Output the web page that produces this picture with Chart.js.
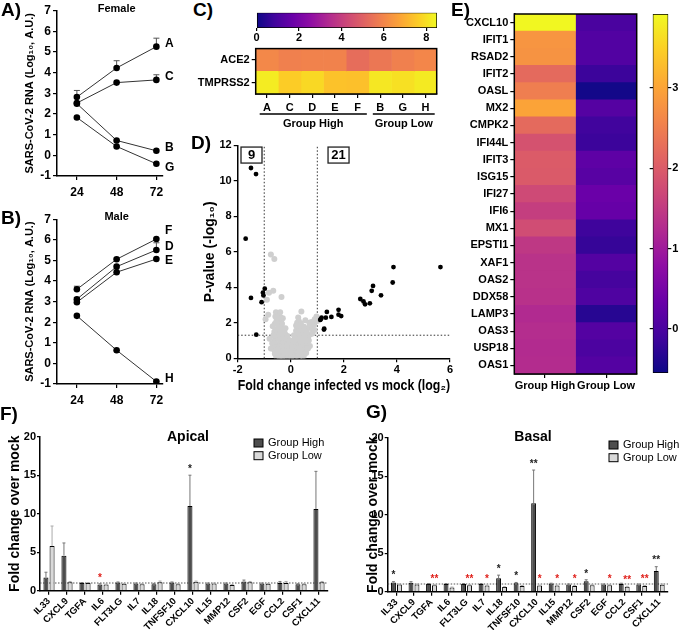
<!DOCTYPE html>
<html><head><meta charset="utf-8">
<script src="https://cdn.jsdelivr.net/npm/chart.js@4.4.1/dist/chart.umd.min.js"></script>
<style>
body{margin:0;background:#fff;width:680px;height:630px;position:relative;overflow:hidden;font-family:"Liberation Sans",Arial,sans-serif;}
canvas{position:absolute;}
.pl{position:absolute;font:bold 19px "Liberation Sans",Arial,sans-serif;line-height:19px;color:#000;white-space:nowrap;}
</style></head><body>
<canvas id="cA" width="190" height="200" style="left:0;top:0"></canvas>
<canvas id="cB" width="190" height="210" style="left:0;top:200px"></canvas>
<canvas id="cCbar" width="195" height="40" style="left:250px;top:5px"></canvas>
<canvas id="cC" width="255" height="95" style="left:190px;top:40px"></canvas>
<canvas id="cD" width="270" height="260" style="left:190px;top:135px"></canvas>
<canvas id="cE" width="235" height="400" style="left:410px;top:0"></canvas>
<canvas id="cEbar" width="40" height="400" style="left:640px;top:0"></canvas>
<canvas id="cF" width="340" height="235" style="left:0;top:395px"></canvas>
<canvas id="cG" width="340" height="235" style="left:340px;top:395px"></canvas>
<div class="pl" style="left:1px;top:0px">A)</div>
<div class="pl" style="left:1px;top:208px">B)</div>
<div class="pl" style="left:193px;top:0px">C)</div>
<div class="pl" style="left:191px;top:133px">D)</div>
<div class="pl" style="left:451px;top:0px">E)</div>
<div class="pl" style="left:0px;top:404px">F)</div>
<div class="pl" style="left:366px;top:402px">G)</div>
<script>
const FF = '"Liberation Sans", Arial, Helvetica, sans-serif';
Chart.defaults.font.family = FF;
Chart.defaults.color = '#000';

// ---------------- data ----------------
const hours = [24, 48, 72];
const femaleIds = ['A', 'C', 'B', 'G'];
const femaleMean = [[2.82, 4.23, 5.26], [2.53, 3.52, 3.65], [2.5, 0.72, 0.22], [1.83, 0.43, -0.41]];
const femaleErr = [[0.32, 0.35, 0.41], [0, 0, 0.25], [0, 0, 0], [0, 0, 0]];
const maleIds = ['F', 'D', 'E', 'H'];
const maleMean = [[3.6, 5.06, 6.04], [3.12, 4.7, 5.51], [2.97, 4.43, 5.07], [2.31, 0.64, -0.88]];
const maleErr = [[0.15, 0.05, 0], [0.08, 0, 0.35], [0, 0, 0], [0, 0, 0]];

const groupHigh = ['A', 'C', 'D', 'E', 'F'];
const groupLow = ['B', 'G', 'H'];
const cGenes = ['ACE2', 'TMPRSS2'];
const ace2Expr = [6.05, 5.85, 5.9, 5.9, 5.35, 5.6, 5.85, 6.0];
const tmprss2Expr = [8.25, 7.6, 7.85, 7.4, 7.35, 8.15, 8.0, 8.2];
const cScaleMax = 8.5;
const cScaleTicks = [0, 2, 4, 6, 8];

const sigDown = [[-1.5, 10.72], [-1.31, 10.38], [-1.7, 6.74], [-1.5, 3.4], [-0.98, 3.92], [-1.03, 3.54], [-1.1, 3.16], [-1.3, 1.33], [-1.05, 3.7]];
const sigUp = [[1.11, 2.16], [1.16, 2.29], [1.26, 1.67], [1.25, 1.62], [1.36, 2.61], [1.32, 2.29], [1.53, 2.33], [1.8, 2.73], [1.8, 2.46], [1.9, 2.38],
  [2.62, 3.34], [2.74, 3.2], [2.8, 3.04], [2.98, 3.1], [3.05, 3.8], [3.1, 4.08], [3.4, 3.55], [3.87, 5.14], [3.84, 4.27], [5.64, 5.14], [1.13, 2.2]];
const nsPts = [
  [-0.42, 0.08], [-0.36, 0.15], [-0.31, 0.05], [-0.27, 0.22], [-0.22, 0.1], [-0.18, 0.3], [-0.14, 0.05], [-0.1, 0.18], [-0.06, 0.08], [-0.02, 0.25],
  [0.02, 0.05], [0.06, 0.15], [0.1, 0.3], [0.14, 0.08], [0.18, 0.2], [0.22, 0.12], [0.27, 0.28], [0.32, 0.06], [0.37, 0.18], [0.44, 0.1],
  [-0.5, 0.35], [-0.44, 0.45], [-0.38, 0.38], [-0.33, 0.55], [-0.28, 0.42], [-0.23, 0.6], [-0.18, 0.5], [-0.13, 0.4], [-0.08, 0.55], [-0.04, 0.35],
  [0.04, 0.4], [0.09, 0.55], [0.13, 0.45], [0.18, 0.6], [0.23, 0.4], [0.28, 0.55], [0.33, 0.45], [0.39, 0.62], [0.45, 0.4], [0.52, 0.5],
  [-0.56, 0.7], [-0.5, 0.8], [-0.44, 0.68], [-0.39, 0.88], [-0.34, 0.75], [-0.29, 0.95], [-0.24, 0.8], [-0.2, 1.0], [-0.15, 0.7], [-0.1, 0.85],
  [0.1, 0.75], [0.14, 0.9], [0.19, 0.72], [0.24, 0.95], [0.3, 0.8], [0.35, 0.98], [0.41, 0.78], [0.47, 0.9], [0.55, 0.75], [0.62, 0.85],
  [-0.6, 1.05], [-0.54, 1.2], [-0.48, 1.1], [-0.43, 1.3], [-0.37, 1.15], [-0.32, 1.35], [-0.27, 1.2], [-0.22, 1.4], [-0.17, 1.15],
  [0.16, 1.1], [0.21, 1.3], [0.26, 1.15], [0.31, 1.38], [0.37, 1.2], [0.43, 1.35], [0.5, 1.15], [0.57, 1.3], [0.66, 1.2], [0.74, 1.35],
  [-0.62, 1.5], [-0.56, 1.62], [-0.5, 1.48], [-0.45, 1.7], [-0.39, 1.55], [-0.34, 1.78], [-0.28, 1.6],
  [0.2, 1.55], [0.25, 1.75], [0.3, 1.6], [0.36, 1.8], [0.42, 1.62], [0.5, 1.78], [0.6, 1.6], [0.7, 1.75], [0.8, 1.65], [0.88, 1.9],
  [-0.6, 1.95], [-0.54, 2.1], [-0.47, 1.92], [-0.42, 2.15], [-0.36, 2.0], [0.24, 2.0], [0.3, 2.12], [0.38, 1.98], [0.78, 2.05], [0.9, 2.2], [0.97, 2.35], [1.0, 2.1],
  [-0.58, 2.35], [-0.5, 2.5], [-0.44, 2.3], [-0.3, 2.25], [0.28, 2.3],
  [-0.55, 0.1], [-0.6, 0.25], [0.5, 0.2], [0.58, 0.3], [0.62, 0.55], [-0.62, 0.45], [-0.48, 0.15], [0.48, 0.05], [-0.35, 0.02], [0.3, 0.35],
  [-0.25, 0.35], [0.0, 0.45], [-0.05, 0.65], [0.05, 0.7], [0.0, 0.9], [-0.08, 1.05], [0.08, 1.0], [-0.12, 1.25], [0.12, 1.3], [-0.65, 1.3],
  [-0.66, 0.7], [0.68, 1.0], [0.72, 0.7], [0.82, 1.4], [0.9, 1.6], [-0.52, 2.25], [-0.56, 2.6], [-0.46, 2.45], [-0.38, 2.3], [-0.33, 1.95],
  [0.33, 1.85], [0.27, 1.45], [0.42, 1.1], [0.55, 1.0], [0.6, 1.45], [-0.2, 1.7], [0.2, 1.85],
  [-0.75, 5.85], [-0.62, 5.6], [-0.66, 3.8], [-0.82, 3.7], [-0.35, 3.45], [-0.9, 3.3], [0.4, 2.63], [-0.85, 2.45], [-0.95, 2.2],
  [-0.8, 1.1], [-0.7, 0.85], [-0.75, 0.55], [-0.68, 1.8], [0.65, 0.55], [0.7, 2.0], [-0.4, 2.6], [0.55, 2.15]
];

const eGenes = ['CXCL10', 'IFIT1', 'RSAD2', 'IFIT2', 'OASL', 'MX2', 'CMPK2', 'IFI44L', 'IFIT3', 'ISG15', 'IFI27', 'IFI6', 'MX1', 'EPSTI1', 'XAF1', 'OAS2', 'DDX58', 'LAMP3', 'OAS3', 'USP18', 'OAS1'];
const eGroups = ['Group High', 'Group Low'];
const eHigh = [3.9, 2.8, 2.78, 2.22, 2.49, 2.98, 2.22, 1.86, 2.0, 1.98, 1.73, 1.55, 1.77, 1.46, 1.37, 1.37, 1.35, 1.24, 1.28, 1.25, 1.27];
const eLow = [-0.01, 0.08, 0.08, -0.15, -0.5, 0.12, -0.1, -0.15, 0.21, 0.15, 0.34, 0.3, -0.12, -0.2, 0.1, -0.05, 0.05, -0.33, 0.1, 0.02, 0.1];
const eScaleMin = -0.55, eScaleMax = 3.92;
const eScaleTicks = [0, 1, 2, 3];

const cytokines = ['IL33', 'CXCL9', 'TGFA', 'IL6', 'FLT3LG', 'IL7', 'IL18', 'TNFSF10', 'CXCL10', 'IL15', 'MMP12', 'CSF2', 'EGF', 'CCL2', 'CSF1', 'CXCL11'];
const apicalHigh = [1.7, 4.55, 1.0, 0.8, 1.05, 0.95, 0.85, 1.05, 11.0, 0.95, 0.95, 1.2, 0.95, 1.0, 0.85, 10.6];
const apicalHighErr = [0.7, 1.65, 0.05, 0.1, 0.08, 0.05, 0.1, 0.08, 4.0, 0.05, 0.05, 0.18, 0.05, 0.2, 0.05, 4.9];
const apicalLow = [5.8, 1.1, 1.0, 0.8, 0.9, 0.85, 1.1, 0.85, 1.15, 0.95, 0.75, 1.1, 0.9, 1.0, 0.85, 1.1];
const apicalLowErr = [2.6, 0.1, 0.05, 0.05, 0.05, 0.05, 0.15, 0.05, 0.1, 0.05, 0.05, 0.1, 0.05, 0.2, 0.05, 0.1];
const apicalSigHigh = ['', '', '', 'r*', '', '', '', '', '*', '', '', '', '', '', '', ''];
const apicalSigLow = ['', '', '', '', '', '', '', '', '', '', '', '', '', '', '', ''];
const basalHigh = [1.2, 1.15, 1.0, 1.0, 1.0, 1.0, 1.75, 1.1, 11.5, 1.05, 0.95, 1.35, 0.95, 1.0, 0.95, 2.7];
const basalHighErr = [0.1, 0.15, 0.05, 0.05, 0.05, 0.05, 0.4, 0.1, 4.3, 0.05, 0.05, 0.2, 0.05, 0.1, 0.05, 0.55];
const basalLow = [0.95, 0.95, 0.85, 0.55, 0.85, 0.8, 0.6, 0.75, 0.8, 0.8, 0.75, 0.85, 0.85, 0.65, 0.75, 0.9];
const basalLowErr = [0.05, 0.05, 0.05, 0.05, 0.05, 0.05, 0.05, 0.05, 0.05, 0.05, 0.05, 0.05, 0.05, 0.05, 0.05, 0.1];
const basalSigHigh = ['*', '', '', '', '', '', '*', '*', '**', '', '', '*', '', '', '', '**'];
const basalSigLow = ['', '', 'r**', '', 'r**', 'r*', '', '', 'r*', 'r*', 'r*', '', 'r*', 'r**', 'r**', ''];
const foldTicks = [0, 5, 10, 15, 20];

// ---------------- helpers ----------------
const PLASMA = ['#0d0887', '#41049d', '#6a00a8', '#8f0da4', '#b12a90', '#cc4778', '#e16462', '#f2844b', '#fca636', '#fcce25', '#f0f921'];
function hex2rgb(h) { return [parseInt(h.slice(1, 3), 16), parseInt(h.slice(3, 5), 16), parseInt(h.slice(5, 7), 16)]; }
function plasma(t) {
  t = Math.max(0, Math.min(1, t));
  const s = t * 10, i = Math.min(9, Math.floor(s)), f = s - i;
  const a = hex2rgb(PLASMA[i]), b = hex2rgb(PLASMA[i + 1]);
  return 'rgb(' + a.map((v, k) => Math.round(v + (b[k] - v) * f)).join(',') + ')';
}
function plasmaGrad(ctx, x0, y0, x1, y1) {
  const g = ctx.createLinearGradient(x0, y0, x1, y1);
  PLASMA.forEach((c, i) => g.addColorStop(i / 10, c));
  return g;
}
function font(size, weight) { return { family: FF, size: size, weight: weight || 'bold' }; }
function axisBase(fs, tl, pad, rot) {
  return {
    grid: { display: true, drawOnChartArea: false, drawTicks: true, tickLength: tl, color: '#000', lineWidth: 1.2, offset: false },
    border: { display: true, color: '#000', width: 1.5 },
    ticks: { color: '#000', font: font(fs), padding: pad, minRotation: rot || 0, maxRotation: rot || 0, autoSkip: false }
  };
}
function txt(ctx, s, x, y, f, color, align, base) {
  ctx.save(); ctx.font = f; ctx.fillStyle = color || '#000'; ctx.textAlign = align || 'center'; ctx.textBaseline = base || 'middle';
  ctx.fillText(s, x, y); ctx.restore();
}
const common = { responsive: false, animation: false, devicePixelRatio: 1, events: [] };
const noPlug = { legend: { display: false }, tooltip: { enabled: false } };

// ---------------- A / B ----------------
function lineChart(id, ids, means, errs, title, dys, topPad, xH) {
  const datasets = ids.map((n, k) => ({
    label: n, data: hours.map((h, i) => ({ x: h, y: means[k][i] })), showLine: true,
    borderColor: '#333', borderWidth: 1, pointRadius: 3.3, pointBackgroundColor: '#000', pointBorderWidth: 0
  }));
  const xa = axisBase(12, 4, 5);
  const ya = axisBase(12, 4, 2);
  new Chart(document.getElementById(id), {
    type: 'scatter', data: { datasets },
    options: Object.assign({}, common, {
      layout: { padding: { top: topPad, right: 27, left: 0, bottom: 0 } },
      plugins: noPlug,
      scales: {
        x: Object.assign(xa, { type: 'linear', min: 12, max: 76, afterBuildTicks: s => { s.ticks = hours.map(v => ({ value: v })); }, afterFit: s => { s.height = xH; } }),
        y: Object.assign(ya, { type: 'linear', min: -1, max: 7, afterBuildTicks: s => { s.ticks = [-1, 0, 1, 2, 3, 4, 5, 6, 7].map(v => ({ value: v })); }, afterFit: s => { s.width = 57; },
          title: { display: true, text: 'SARS-CoV-2 RNA (Log\u2081\u2080, A.U.)', color: '#000', font: font(11), padding: { top: 23, bottom: 0 } } })
      }
    }),
    plugins: [{
      id: 'lineDeco',
      beforeDatasetsDraw(chart) {
        const ctx = chart.ctx, ys = chart.scales.y;
        ctx.save(); ctx.strokeStyle = '#555'; ctx.lineWidth = 1;
        ids.forEach((n, k) => {
          const meta = chart.getDatasetMeta(k);
          hours.forEach((h, i) => {
            if (errs[k][i] <= 0) return;
            const p = meta.data[i]; const yt = ys.getPixelForValue(means[k][i] + errs[k][i]);
            ctx.beginPath(); ctx.moveTo(p.x, p.y); ctx.lineTo(p.x, yt); ctx.moveTo(p.x - 3, yt); ctx.lineTo(p.x + 3, yt); ctx.stroke();
          });
        });
        ctx.restore();
      },
      afterDraw(chart) {
        const ctx = chart.ctx, a = chart.chartArea;
        ids.forEach((n, k) => {
          const meta = chart.getDatasetMeta(k); const p = meta.data[hours.length - 1];
          txt(ctx, n, p.x + 8.5, p.y + dys[k], 'bold 12px ' + FF, '#000', 'left', 'middle');
        });
        txt(ctx, title, chart.scales.x.getPixelForValue(48), a.top - 2, 'bold 11px ' + FF);
      }
    }]
  });
}
lineChart('cA', femaleIds, femaleMean, femaleErr, 'Female', [-3, -3, -3, 4], 10.7, 24);
lineChart('cB', maleIds, maleMean, maleErr, 'Male', [-8, -3, 2, -3], 19.3, 26);

// ---------------- C ----------------
const cCols = groupHigh.concat(groupLow);
(function () {
  const xa = axisBase(11, 3, 0);
  new Chart(document.getElementById('cCbar'), {
    type: 'bar',
    data: { labels: [''], datasets: [{ data: [[0, cScaleMax]], borderColor: '#000', borderWidth: 1, borderSkipped: false, barPercentage: 1, categoryPercentage: 1,
      backgroundColor: ctx => { const a = ctx.chart.chartArea; if (!a) return '#888'; return plasmaGrad(ctx.chart.ctx, a.left, 0, a.right, 0); } }] },
    options: Object.assign({}, common, {
      indexAxis: 'y',
      layout: { padding: { top: 7.7, left: 6.5, right: 8, bottom: 0 } },
      plugins: noPlug,
      scales: {
        x: Object.assign(xa, { type: 'linear', min: 0, max: cScaleMax, border: { display: false }, afterBuildTicks: s => { s.ticks = cScaleTicks.map(v => ({ value: v })); }, afterFit: s => { s.height = 17; } }),
        y: { display: false }
      }
    })
  });
  const datasets = cCols.map((c, i) => ({
    label: c, data: [1, 1], borderWidth: 0, barPercentage: 1, categoryPercentage: 1,
    backgroundColor: [plasma(ace2Expr[i] / cScaleMax), plasma(tmprss2Expr[i] / cScaleMax)]
  }));
  const xa2 = axisBase(11, 4, 3), ya2 = axisBase(11, 4, 2);
  new Chart(document.getElementById('cC'), {
    type: 'bar', data: { labels: cGenes, datasets },
    options: Object.assign({}, common, {
      indexAxis: 'y',
      layout: { padding: { top: 7.3, right: 8.3, left: 0, bottom: 0 } },
      plugins: noPlug,
      scales: {
        x: Object.assign(xa2, { type: 'linear', stacked: true, min: 0, max: cCols.length, afterBuildTicks: s => { s.ticks = cCols.map((c, i) => ({ value: i + 0.5 })); },
          afterFit: s => { s.height = 41; } }),
        y: Object.assign(ya2, { stacked: true, afterFit: s => { s.width = 65.7; } })
      }
    }),
    plugins: [{
      id: 'cDeco',
      beforeInit(chart) { chart.options.scales.x.ticks.callback = (v, i) => cCols[i]; },
      afterDraw(chart) {
        const ctx = chart.ctx, a = chart.chartArea, xs = chart.scales.x;
        ctx.save(); ctx.strokeStyle = '#000'; ctx.lineWidth = 1.5; ctx.strokeRect(a.left, a.top, a.right - a.left, a.bottom - a.top);
        const groups = [['Group High', 0, groupHigh.length], ['Group Low', groupHigh.length, cCols.length]];
        groups.forEach(g => {
          const x0 = xs.getPixelForValue(g[1]) + 4, x1 = xs.getPixelForValue(g[2]) - 2, y = a.bottom + 20;
          ctx.lineWidth = 1.3; ctx.beginPath(); ctx.moveTo(x0, y); ctx.lineTo(x1, y); ctx.stroke();
          txt(ctx, g[0], (x0 + x1) / 2, y + 10, 'bold 11px ' + FF);
        });
        ctx.restore();
      }
    }]
  });
})();

// ---------------- D ----------------
(function () {
  const xa = axisBase(11, 4, 1), ya = axisBase(11, 4, 2);
  const toXY = arr => arr.map(p => ({ x: p[0], y: p[1] }));
  new Chart(document.getElementById('cD'), {
    type: 'scatter',
    data: { datasets: [
      { label: 'down', data: toXY(sigDown), pointRadius: 2.4, pointBackgroundColor: '#000', pointBorderWidth: 0 },
      { label: 'up', data: toXY(sigUp), pointRadius: 2.4, pointBackgroundColor: '#000', pointBorderWidth: 0 },
      { label: 'ns', data: toXY(nsPts), pointRadius: 3, pointBackgroundColor: '#cfcfcf', pointBorderWidth: 0 }
    ] },
    options: Object.assign({}, common, {
      layout: { padding: { top: 10.3, right: 10, left: 0, bottom: 0 } },
      plugins: noPlug,
      scales: {
        x: Object.assign(xa, { type: 'linear', min: -2, max: 6, afterBuildTicks: s => { s.ticks = [-2, 0, 2, 4, 6].map(v => ({ value: v })); }, afterFit: s => { s.height = 36.7; },
          title: { display: true, text: 'Fold change infected vs mock (log\u2082)', color: '#000', font: font(14), padding: { top: 0, bottom: 0.6 } } }),
        y: Object.assign(ya, { type: 'linear', min: 0, max: 12, afterBuildTicks: s => { s.ticks = [0, 2, 4, 6, 8, 10, 12].map(v => ({ value: v })); }, afterFit: s => { s.width = 47.7; },
          title: { display: true, text: 'P-value (-log\u2081\u2080)', color: '#000', font: font(14), padding: { top: 11.6, bottom: 0 } } })
      }
    }),
    plugins: [{
      id: 'dDeco',
      beforeDatasetsDraw(chart) {
        const ctx = chart.ctx, xs = chart.scales.x, ys = chart.scales.y;
        ctx.save(); ctx.setLineDash([1.5, 2]); ctx.strokeStyle = '#333'; ctx.lineWidth = 1;
        [-1, 1].forEach(v => { const x = xs.getPixelForValue(v); ctx.beginPath(); ctx.moveTo(x, ys.getPixelForValue(0)); ctx.lineTo(x, ys.getPixelForValue(12)); ctx.stroke(); });
        const y = ys.getPixelForValue(1.3); ctx.beginPath(); ctx.moveTo(xs.getPixelForValue(-2), y); ctx.lineTo(xs.getPixelForValue(6), y); ctx.stroke();
        ctx.restore();
      },
      afterDraw(chart) {
        const ctx = chart.ctx, xs = chart.scales.x, ys = chart.scales.y;
        [[String(sigDown.length), -1.48], [String(sigUp.length), 1.8]].forEach(b => {
          const cx = xs.getPixelForValue(b[1]), cy = ys.getPixelForValue(11.45);
          ctx.save(); ctx.fillStyle = '#fff'; ctx.strokeStyle = '#222'; ctx.lineWidth = 1.3;
          ctx.fillRect(cx - 10.5, cy - 8, 21, 16); ctx.strokeRect(cx - 10.5, cy - 8, 21, 16); ctx.restore();
          txt(ctx, b[0], cx, cy + 0.5, 'bold 13px ' + FF);
        });
      }
    }]
  });
})();

// ---------------- E ----------------
(function () {
  const norm = v => (v - eScaleMin) / (eScaleMax - eScaleMin);
  const datasets = [
    { label: eGroups[0], data: eGenes.map(() => 1), backgroundColor: eHigh.map(v => plasma(norm(v))), borderWidth: 0, barPercentage: 1, categoryPercentage: 1 },
    { label: eGroups[1], data: eGenes.map(() => 1), backgroundColor: eLow.map(v => plasma(norm(v))), borderWidth: 0, barPercentage: 1, categoryPercentage: 1 }
  ];
  const xa = axisBase(11, 4, 1), ya = axisBase(11, 4, 2);
  new Chart(document.getElementById('cE'), {
    type: 'bar', data: { labels: eGenes, datasets },
    options: Object.assign({}, common, {
      indexAxis: 'y',
      layout: { padding: { top: 14, right: 8.3, left: 0, bottom: 0 } },
      plugins: noPlug,
      scales: {
        x: Object.assign(xa, { type: 'linear', stacked: true, min: 0, max: 2, afterBuildTicks: s => { s.ticks = [0.5, 1.5].map(v => ({ value: v })); }, afterFit: s => { s.height = 26; } }),
        y: Object.assign(ya, { stacked: true, afterFit: s => { s.width = 104.3; } })
      }
    }),
    plugins: [{
      id: 'eDeco',
      beforeInit(chart) { chart.options.scales.x.ticks.callback = (v, i) => eGroups[i]; },
      afterDraw(chart) {
        const ctx = chart.ctx, a = chart.chartArea;
        ctx.save(); ctx.strokeStyle = '#000'; ctx.lineWidth = 1.5; ctx.strokeRect(a.left, a.top, a.right - a.left, a.bottom - a.top); ctx.restore();
      }
    }]
  });
  const ya2 = axisBase(11, 3, 1);
  new Chart(document.getElementById('cEbar'), {
    type: 'bar',
    data: { labels: [''], datasets: [{ data: [[eScaleMin, eScaleMax]], borderColor: '#000', borderWidth: 1, borderSkipped: false, barPercentage: 1, categoryPercentage: 1,
      backgroundColor: ctx => { const a = ctx.chart.chartArea; if (!a) return '#888'; return plasmaGrad(ctx.chart.ctx, 0, a.bottom, 0, a.top); } }] },
    options: Object.assign({}, common, {
      layout: { padding: { top: 14, left: 0, right: 0, bottom: 27 } },
      plugins: noPlug,
      scales: {
        x: { display: false },
        y: Object.assign(ya2, { position: 'right', min: eScaleMin, max: eScaleMax, border: { display: false }, afterBuildTicks: s => { s.ticks = eScaleTicks.map(v => ({ value: v })); }, afterFit: s => { s.width = 11.7; } }),
        yl: { position: 'left', min: eScaleMin, max: eScaleMax, border: { display: false }, afterBuildTicks: s => { s.ticks = eScaleTicks.map(v => ({ value: v })); }, afterFit: s => { s.width = 12.7; },
          ticks: { display: false }, grid: { display: true, drawOnChartArea: false, drawTicks: true, tickLength: 3, color: '#000', lineWidth: 1.2 } }
      }
    })
  });
})();

// ---------------- F / G ----------------
function barChart(id, title, high, highErr, low, lowErr, sigH, sigL, g) {
  const xa = axisBase(9.5, 4, 1, 45), ya = axisBase(11, 3, 1);
  new Chart(document.getElementById(id), {
    type: 'bar',
    data: { labels: cytokines, datasets: [
      { label: 'Group High', data: high, backgroundColor: '#4d4d4d', borderColor: '#000', borderWidth: 1, categoryPercentage: 0.68, barPercentage: 0.82 },
      { label: 'Group Low', data: low, backgroundColor: '#d9d9d9', borderColor: '#000', borderWidth: 1, categoryPercentage: 0.68, barPercentage: 0.82 }
    ] },
    options: Object.assign({}, common, {
      layout: { padding: { top: g.top, right: 12, left: 0, bottom: 0 } },
      plugins: noPlug,
      scales: {
        x: Object.assign(xa, { afterFit: s => { s.height = g.xh; } }),
        y: Object.assign(ya, { min: 0, max: 20, afterBuildTicks: s => { s.ticks = foldTicks.map(v => ({ value: v })); }, afterFit: s => { s.width = g.yw; },
          title: { display: true, text: 'Fold change over mock', color: '#000', font: font(14), padding: { top: g.tpad, bottom: 0 } } })
      }
    }),
    plugins: [{
      id: 'barDeco',
      beforeDatasetsDraw(chart) {
        const ctx = chart.ctx, a = chart.chartArea, y = chart.scales.y.getPixelForValue(1);
        ctx.save(); ctx.setLineDash([1.5, 1.5]); ctx.strokeStyle = '#555'; ctx.lineWidth = 1;
        ctx.beginPath(); ctx.moveTo(a.left, y); ctx.lineTo(a.right, y); ctx.stroke(); ctx.restore();
      },
      afterDatasetsDraw(chart) {
        const ctx = chart.ctx, ys = chart.scales.y;
        const sets = [[high, highErr, sigH, '#777'], [low, lowErr, sigL, '#aaa']];
        sets.forEach((s, d) => {
          const meta = chart.getDatasetMeta(d);
          s[0].forEach((v, i) => {
            const el = meta.data[i];
            const yt = ys.getPixelForValue(v + s[1][i]);
            ctx.save(); ctx.strokeStyle = s[3]; ctx.lineWidth = 1;
            ctx.beginPath(); ctx.moveTo(el.x, el.y); ctx.lineTo(el.x, yt); ctx.moveTo(el.x - 1.5, yt); ctx.lineTo(el.x + 1.5, yt); ctx.stroke(); ctx.restore();
            let st = s[2][i];
            if (st) {
              let col = '#222';
              if (st[0] === 'r') { col = '#e0201b'; st = st.slice(1); }
              txt(ctx, st, el.x, Math.min(el.y, yt) - 1, 'bold 10px ' + FF, col, 'center', 'bottom');
            }
          });
        });
      },
      afterDraw(chart) {
        const ctx = chart.ctx;
        txt(ctx, title, g.titleX, g.titleY, 'bold 14px ' + FF);
        [['Group High', '#4d4d4d'], ['Group Low', '#d9d9d9']].forEach((l, k) => {
          const y = g.legY + k * 12.7;
          ctx.save(); ctx.fillStyle = l[1]; ctx.strokeStyle = '#000'; ctx.lineWidth = 1;
          ctx.fillRect(g.legX, y - 4, 9, 8); ctx.strokeRect(g.legX, y - 4, 9, 8); ctx.restore();
          txt(ctx, l[0], g.legX + 14, y, '11px ' + FF, '#000', 'left', 'middle');
        });
      }
    }]
  });
}
barChart('cF', 'Apical', apicalHigh, apicalHighErr, apicalLow, apicalLowErr, apicalSigHigh, apicalSigLow,
  { top: 41.7, xh: 39.3, yw: 40, tpad: 6.6, titleX: 188, titleY: 41.7, legX: 254, legY: 48 });
barChart('cG', 'Basal', basalHigh, basalHighErr, basalLow, basalLowErr, basalSigHigh, basalSigLow,
  { top: 42.7, xh: 38.3, yw: 47.7, tpad: 24.6, titleX: 193, titleY: 42.3, legX: 269, legY: 50 });
</script>
</body></html>
